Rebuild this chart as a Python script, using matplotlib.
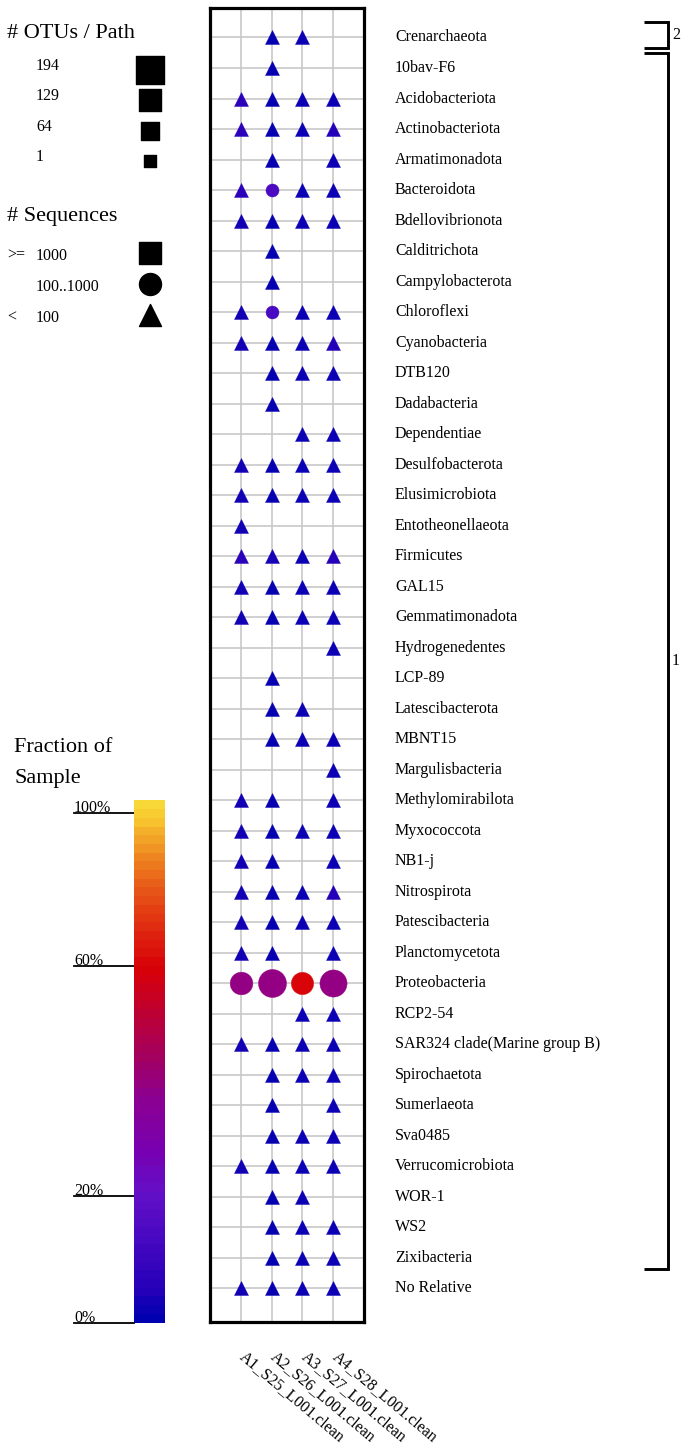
import numpy as np
import matplotlib
matplotlib.use("Agg")
import matplotlib.pyplot as plt
from matplotlib.colors import LinearSegmentedColormap, ListedColormap
from matplotlib.transforms import blended_transform_factory

plt.rcParams["font.family"] = ["Liberation Serif", "DejaVu Serif"]

# ---------------- data ----------------
phyla = [
    "Crenarchaeota", "10bav-F6", "Acidobacteriota", "Actinobacteriota", "Armatimonadota",
    "Bacteroidota", "Bdellovibrionota", "Calditrichota", "Campylobacterota", "Chloroflexi",
    "Cyanobacteria", "DTB120", "Dadabacteria", "Dependentiae", "Desulfobacterota",
    "Elusimicrobiota", "Entotheonellaeota", "Firmicutes", "GAL15", "Gemmatimonadota",
    "Hydrogenedentes", "LCP-89", "Latescibacterota", "MBNT15", "Margulisbacteria",
    "Methylomirabilota", "Myxococcota", "NB1-j", "Nitrospirota", "Patescibacteria",
    "Planctomycetota", "Proteobacteria", "RCP2-54", "SAR324 clade(Marine group B)",
    "Spirochaetota", "Sumerlaeota", "Sva0485", "Verrucomicrobiota", "WOR-1", "WS2",
    "Zixibacteria", "No Relative",
]
samples = ["A1_S25_L001.clean", "A2_S26_L001.clean", "A3_S27_L001.clean", "A4_S28_L001.clean"]

# number of sequences per phylum (rows) and sample (columns); 0 = absent
seqs = [
    [0, 22, 22, 0], [0, 22, 0, 0], [60, 22, 22, 22], [60, 22, 22, 60], [0, 22, 0, 22],
    [60, 325, 22, 22], [22, 22, 22, 22], [0, 22, 0, 0], [0, 22, 0, 0], [22, 300, 22, 22],
    [22, 22, 22, 60], [0, 22, 22, 22], [0, 22, 0, 0], [0, 0, 22, 22], [22, 22, 22, 22],
    [22, 22, 22, 22], [22, 0, 0, 0], [60, 60, 22, 60], [22, 22, 22, 22], [22, 22, 22, 22],
    [0, 0, 0, 22], [0, 22, 0, 0], [0, 22, 22, 0], [0, 22, 22, 22], [0, 0, 0, 22],
    [22, 22, 0, 22], [22, 22, 22, 22], [22, 22, 0, 22], [22, 22, 22, 60], [22, 22, 22, 22],
    [22, 22, 0, 22], [390, 900, 960, 550], [0, 0, 22, 22], [22, 22, 22, 22],
    [0, 22, 22, 22], [0, 22, 0, 22], [0, 22, 22, 22], [22, 22, 22, 22], [0, 22, 22, 0],
    [0, 22, 22, 22], [0, 22, 22, 22], [22, 22, 22, 22],
]

# number of OTUs per phylum and sample; 0 = absent
otus = [
    [0, 22, 22, 0], [0, 22, 0, 0], [22, 22, 22, 22], [22, 22, 22, 22], [0, 22, 0, 22],
    [22, 12, 22, 22], [22, 22, 22, 22], [0, 22, 0, 0], [0, 22, 0, 0], [22, 11, 22, 22],
    [22, 22, 22, 22], [0, 22, 22, 22], [0, 22, 0, 0], [0, 0, 22, 22], [22, 22, 22, 22],
    [22, 22, 22, 22], [22, 0, 0, 0], [22, 22, 22, 22], [22, 22, 22, 22], [22, 22, 22, 22],
    [0, 0, 0, 22], [0, 22, 0, 0], [0, 22, 22, 0], [0, 22, 22, 22], [0, 0, 0, 22],
    [22, 22, 0, 22], [22, 22, 22, 22], [22, 22, 0, 22], [22, 22, 22, 22], [22, 22, 22, 22],
    [22, 22, 0, 22], [125, 194, 120, 183], [0, 0, 22, 22], [22, 22, 22, 22],
    [0, 22, 22, 22], [0, 22, 0, 22], [0, 22, 22, 22], [22, 22, 22, 22], [0, 22, 22, 0],
    [0, 22, 22, 22], [0, 22, 22, 22], [22, 22, 22, 22],
]

cluster_labels = ["2", "1"]
cluster_first = [0, 1]
cluster_last = [0, 40]

otu_legend = [194, 129, 64, 1]
seq_legend_prefix = [">=", "", "<"]
seq_legend_value = ["1000", "100..1000", "100"]
cbar_ticks = [100, 60, 20, 0]

# ---------------- helpers ----------------
S = np.array(seqs, dtype=float)
O = np.array(otus, dtype=float)
frac = S / S.sum(axis=0, keepdims=True)

def otu_px(n):
    return np.interp(n, [1, 64, 129, 194], [12, 18, 23, 28])

def frac_to_t(f):
    return np.interp(f, [0, 0.2, 0.6, 1.0], [0, 0.243, 0.682, 0.975])

cmap = LinearSegmentedColormap.from_list("frac", [
    (0.00, "#0000b0"), (0.05, "#2400b8"), (0.243, "#6410c8"), (0.33, "#7a00b0"),
    (0.43, "#8c0090"), (0.52, "#a8005a"), (0.60, "#c00030"), (0.682, "#d80008"),
    (0.76, "#e02a10"), (0.84, "#e85a18"), (0.91, "#f08e22"), (0.975, "#f8c830"),
    (1.00, "#f8d838")])

W, H = 686, 1453
fig = plt.figure(figsize=(W / 100, H / 100), dpi=100)

# overlay axes in pixel coordinates for legends
ov = fig.add_axes([0, 0, 1, 1], zorder=0)
ov.set_xlim(0, W)
ov.set_ylim(H, 0)
ov.axis("off")

# ---------------- main grid ----------------
ax = fig.add_axes([210 / W, 1 - 1322 / H, 154 / W, 1314 / H], zorder=2)
ax.set_xlim(0, 5)
ax.set_ylim(42.11, -0.967)
ax.set_xticks([])
ax.set_yticks([])
for sp in ax.spines.values():
    sp.set_linewidth(2.3)
    sp.set_color("black")

ncol = len(samples)
nrow = len(phyla)
for j in range(ncol):
    ax.axvline(j + 1, color="#c8c8c8", lw=1.2, zorder=1)
for i in range(nrow):
    ax.axhline(i, color="#c8c8c8", lw=1.2, zorder=1)

for i in range(nrow):
    for j in range(ncol):
        if S[i, j] <= 0:
            continue
        if S[i, j] >= 1000:
            mk = "s"
        elif S[i, j] >= 100:
            mk = "o"
        else:
            mk = "^"
        c = cmap(frac_to_t(frac[i, j]))
        pts = otu_px(O[i, j]) * 0.72
        ax.scatter([j + 1], [i], marker=mk, s=pts ** 2, color=c, edgecolors=c,
                   linewidths=0.3, zorder=3)

bt = blended_transform_factory(ax.transAxes, ax.transData)
for i, name in enumerate(phyla):
    ax.text(1.2013, i, name, transform=bt, ha="left", va="center", fontsize=11.5)

# sample labels (rotated)
bx = blended_transform_factory(ax.transData, ax.transAxes)
for j, name in enumerate(samples):
    ax.text(j + 1 + 0.2, -0.02, name, transform=bx, rotation=-40, rotation_mode="anchor",
            ha="left", va="top", fontsize=11.5)

# cluster brackets
x0, x1 = 2.818, 2.974
for lab, a, b in zip(cluster_labels, cluster_first, cluster_last):
    top = a - 0.5
    bot = b + 0.36
    ax.plot([x0, x1, x1, x0], [top, top, bot, bot], transform=bt, color="black",
            lw=2.1, clip_on=False, solid_joinstyle="miter", solid_capstyle="butt")
    ax.text(3.0, (top + bot) / 2, lab, transform=bt, ha="left", va="center", fontsize=11.5)

# ---------------- legends ----------------
ov.text(7, 33, "# OTUs / Path", fontsize=16, ha="left", va="center")
for n, y in zip(otu_legend, [70, 100, 131, 161]):
    ov.text(36, y - 4, str(n), fontsize=11.5, ha="left", va="center")
    ov.scatter([150], [y], marker="s", s=(otu_px(n) * 0.72) ** 2, color="black")

ov.text(7, 216, "# Sequences", fontsize=16, ha="left", va="center")
for pre, val, y, mk in zip(seq_legend_prefix, seq_legend_value, [255, 286, 317], ["s", "o", "^"]):
    if pre:
        ov.text(7, y + 1, pre, fontsize=11.5, ha="left", va="center")
    ov.text(36, y + 1, val, fontsize=11.5, ha="left", va="center")
    ov.scatter([150], [y - 2], marker=mk, s=(22 * 0.72) ** 2, color="black")

ov.text(14, 748, "Fraction of", fontsize=16, ha="left", va="center")
ov.text(14, 778, "Sample", fontsize=16, ha="left", va="center")

# colorbar
cb_top, cb_bot = 800, 1323
cax = fig.add_axes([134 / W, 1 - cb_bot / H, 31 / W, (cb_bot - cb_top) / H], zorder=1)
bands = ListedColormap(cmap(np.linspace(0, 1, 60)))
cax.imshow(np.linspace(0, 1, 523)[:, None], cmap=bands, aspect="auto", origin="lower",
           extent=[0, 1, 0, 1])
cax.axis("off")
for tk in cbar_ticks:
    y = cb_bot - frac_to_t(tk / 100) * (cb_bot - cb_top)
    ov.plot([74, 134], [y, y], color="black", lw=1.3)
    ov.text(74, y - 1, f"{tk}%", fontsize=11.5, ha="left", va="baseline")

fig.savefig("out.png", dpi=100)
